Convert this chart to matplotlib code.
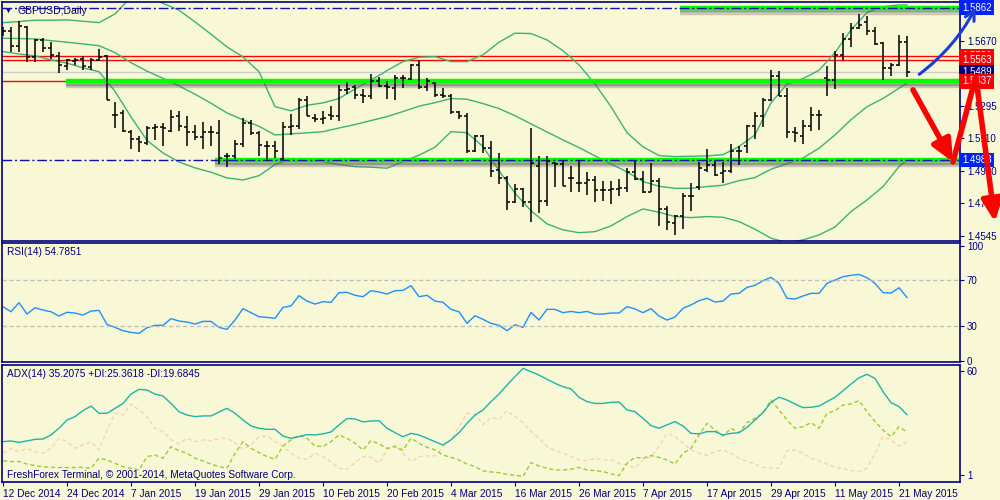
import matplotlib
matplotlib.use("Agg")
import matplotlib.pyplot as plt
import matplotlib.patheffects as pe
import matplotlib.transforms as mtransforms
from matplotlib.patches import FancyArrowPatch
import numpy as np

# ---- data (daily GBPUSD bars, 12 Dec 2014 .. 22 May 2015) ----
date_labels = ["12 Dec 2014", "24 Dec 2014", "7 Jan 2015", "19 Jan 2015", "29 Jan 2015",
               "10 Feb 2015", "20 Feb 2015", "4 Mar 2015", "16 Mar 2015", "26 Mar 2015",
               "7 Apr 2015", "17 Apr 2015", "29 Apr 2015", "11 May 2015", "21 May 2015"]

opens = [1.5721, 1.5725, 1.5640, 1.5753, 1.5577, 1.5673, 1.5629, 1.5584, 1.5527, 1.5552,
         1.5565, 1.5519, 1.5561, 1.5584, 1.5245, 1.5254, 1.5143, 1.5104, 1.5081, 1.5168,
         1.5172, 1.5152, 1.5235, 1.5172, 1.5143, 1.5114, 1.5143, 1.5139, 1.5005, 1.5005,
         1.5076, 1.5197, 1.5139, 1.5062, 1.5062, 1.4989, 1.5172, 1.5181, 1.5331, 1.5225,
         1.5220, 1.5245, 1.5239, 1.5385, 1.5404, 1.5360, 1.5350, 1.5437, 1.5412, 1.5398,
         1.5456, 1.5452, 1.5533, 1.5404, 1.5427, 1.5360, 1.5354, 1.5258, 1.5239, 1.5033,
         1.5124, 1.5053, 1.4928, 1.4880, 1.4740, 1.4816, 1.4740, 1.4947, 1.4745, 1.4966,
         1.4960, 1.4880, 1.4851, 1.4851, 1.4870, 1.4809, 1.4813, 1.4816, 1.4822, 1.4912,
         1.4874, 1.4797, 1.4860, 1.4701, 1.4620, 1.4663, 1.4774, 1.4828, 1.4928, 1.4957,
         1.4909, 1.4918, 1.5033, 1.5062, 1.5177, 1.5235, 1.5331, 1.5469, 1.5350, 1.5143,
         1.5120, 1.5181, 1.5245, 1.5456, 1.5446, 1.5590, 1.5680, 1.5744, 1.5782, 1.5730,
         1.5657, 1.5513, 1.5533, 1.5667]
highs = [1.5750, 1.5748, 1.5788, 1.5757, 1.5680, 1.5686, 1.5667, 1.5609, 1.5565, 1.5571,
         1.5584, 1.5571, 1.5623, 1.5590, 1.5316, 1.5273, 1.5154, 1.5120, 1.5177, 1.5191,
         1.5197, 1.5270, 1.5268, 1.5235, 1.5187, 1.5200, 1.5181, 1.5212, 1.5024, 1.5101,
         1.5225, 1.5216, 1.5152, 1.5095, 1.5091, 1.5200, 1.5250, 1.5341, 1.5354, 1.5248,
         1.5264, 1.5293, 1.5417, 1.5431, 1.5417, 1.5392, 1.5481, 1.5462, 1.5437, 1.5475,
         1.5475, 1.5538, 1.5558, 1.5456, 1.5431, 1.5398, 1.5366, 1.5264, 1.5254, 1.5129,
         1.5126, 1.5091, 1.5024, 1.4889, 1.4847, 1.4822, 1.5168, 1.5008, 1.5008, 1.4970,
         1.4976, 1.4951, 1.4985, 1.4912, 1.4889, 1.4860, 1.4860, 1.4874, 1.4937, 1.4976,
         1.4918, 1.4966, 1.4880, 1.4720, 1.4668, 1.4793, 1.4851, 1.4970, 1.5047, 1.4976,
         1.4970, 1.5078, 1.5062, 1.5187, 1.5258, 1.5341, 1.5500, 1.5494, 1.5398, 1.5174,
         1.5212, 1.5289, 1.5273, 1.5523, 1.5615, 1.5715, 1.5776, 1.5826, 1.5815, 1.5750,
         1.5667, 1.5542, 1.5705, 1.5696]
lows = [1.5700, 1.5609, 1.5604, 1.5546, 1.5546, 1.5604, 1.5565, 1.5485, 1.5504, 1.5533,
        1.5504, 1.5500, 1.5552, 1.5327, 1.5168, 1.5143, 1.5047, 1.5028, 1.5072, 1.5101,
        1.5066, 1.5143, 1.5149, 1.5066, 1.5101, 1.5047, 1.5066, 1.4962, 1.4941, 1.4989,
        1.5056, 1.5129, 1.5008, 1.4980, 1.4995, 1.4985, 1.5129, 1.5162, 1.5235, 1.5200,
        1.5193, 1.5212, 1.5206, 1.5366, 1.5335, 1.5312, 1.5335, 1.5404, 1.5335, 1.5327,
        1.5398, 1.5446, 1.5392, 1.5379, 1.5346, 1.5341, 1.5250, 1.5220, 1.5024, 1.5028,
        1.5024, 1.4886, 1.4847, 1.4694, 1.4736, 1.4713, 1.4624, 1.4678, 1.4717, 1.4828,
        1.4832, 1.4797, 1.4797, 1.4784, 1.4740, 1.4745, 1.4732, 1.4774, 1.4797, 1.4870,
        1.4793, 1.4797, 1.4605, 1.4578, 1.4553, 1.4586, 1.4688, 1.4809, 1.4912, 1.4893,
        1.4851, 1.4909, 1.4957, 1.5024, 1.5104, 1.5174, 1.5321, 1.5350, 1.5110, 1.5085,
        1.5078, 1.5149, 1.5154, 1.5350, 1.5392, 1.5558, 1.5634, 1.5738, 1.5705, 1.5648,
        1.5446, 1.5469, 1.5523, 1.5462]
closes = [1.5725, 1.5642, 1.5757, 1.5577, 1.5673, 1.5632, 1.5590, 1.5533, 1.5561, 1.5561,
          1.5523, 1.5561, 1.5580, 1.5331, 1.5245, 1.5149, 1.5104, 1.5085, 1.5168, 1.5172,
          1.5168, 1.5231, 1.5177, 1.5143, 1.5114, 1.5143, 1.5143, 1.4995, 1.5005, 1.5076,
          1.5197, 1.5139, 1.5068, 1.5062, 1.5033, 1.5172, 1.5181, 1.5331, 1.5239, 1.5220,
          1.5225, 1.5235, 1.5385, 1.5392, 1.5360, 1.5350, 1.5437, 1.5412, 1.5404, 1.5456,
          1.5456, 1.5533, 1.5404, 1.5437, 1.5360, 1.5350, 1.5258, 1.5239, 1.5033, 1.5124,
          1.5053, 1.4918, 1.4880, 1.4740, 1.4816, 1.4740, 1.4966, 1.4745, 1.4976, 1.4960,
          1.4836, 1.4880, 1.4851, 1.4870, 1.4809, 1.4813, 1.4816, 1.4822, 1.4912, 1.4874,
          1.4797, 1.4860, 1.4701, 1.4624, 1.4663, 1.4774, 1.4774, 1.4937, 1.4957, 1.4899,
          1.4918, 1.5033, 1.5033, 1.5177, 1.5235, 1.5331, 1.5469, 1.5350, 1.5143, 1.5139,
          1.5181, 1.5245, 1.5245, 1.5446, 1.5590, 1.5680, 1.5744, 1.5763, 1.5730, 1.5654,
          1.5513, 1.5533, 1.5667, 1.5489]

# Bollinger band (20) read every 2nd bar
band_idx = list(range(0, 113, 2)) + [113]
band_upper = [1.5776, 1.5782, 1.5790, 1.5790, 1.5792, 1.5784, 1.5776, 1.5826, 1.5924, 1.5942,
              1.5887, 1.5848, 1.5780, 1.5709, 1.5636, 1.5578, 1.5493, 1.5291, 1.5267, 1.5299,
              1.5313, 1.5338, 1.5393, 1.5445, 1.5499, 1.5551, 1.5576, 1.5580, 1.5551, 1.5551,
              1.5590, 1.5663, 1.5715, 1.5713, 1.5676, 1.5614, 1.5532, 1.5422, 1.5291, 1.5141,
              1.5059, 1.5009, 1.5003, 1.5005, 1.5007, 1.5014, 1.5061, 1.5128, 1.5313, 1.5421,
              1.5453, 1.5501, 1.5603, 1.5734, 1.5834, 1.5868, 1.5878, 1.5878]
band_mid = [1.5686, 1.5684, 1.5682, 1.5672, 1.5663, 1.5653, 1.5643, 1.5603, 1.5545, 1.5496,
            1.5455, 1.5411, 1.5363, 1.5311, 1.5255, 1.5215, 1.5178, 1.5128, 1.5134, 1.5140,
            1.5147, 1.5168, 1.5188, 1.5211, 1.5234, 1.5263, 1.5294, 1.5314, 1.5338, 1.5334,
            1.5309, 1.5280, 1.5239, 1.5192, 1.5145, 1.5099, 1.5055, 1.5007, 1.4960, 1.4915,
            1.4859, 1.4832, 1.4820, 1.4820, 1.4830, 1.4838, 1.4864, 1.4882, 1.4930, 1.4962,
            1.4995, 1.5051, 1.5128, 1.5216, 1.5291, 1.5338, 1.5398, 1.5426]
band_lower = [1.5609, 1.5595, 1.5584, 1.5561, 1.5542, 1.5515, 1.5493, 1.5380, 1.5232, 1.5097,
              1.5024, 1.4972, 1.4938, 1.4913, 1.4880, 1.4868, 1.4893, 1.4957, 1.4990, 1.4982,
              1.4974, 1.4957, 1.4945, 1.4942, 1.4936, 1.4974, 1.5011, 1.5057, 1.5147, 1.5141,
              1.5061, 1.4922, 1.4792, 1.4690, 1.4615, 1.4580, 1.4564, 1.4570, 1.4603, 1.4657,
              1.4701, 1.4682, 1.4657, 1.4651, 1.4657, 1.4653, 1.4628, 1.4584, 1.4532, 1.4507,
              1.4522, 1.4551, 1.4597, 1.4686, 1.4753, 1.4830, 1.4945, 1.4984]

rsi = [46.8, 42.4, 50.3, 40.4, 45.9, 43.9, 42.4, 38.7, 41.9, 41.3,
       39.5, 43.0, 43.6, 31.4, 28.8, 25.9, 24.5, 23.6, 28.5, 30.6,
       30.6, 36.4, 34.3, 33.5, 31.7, 34.0, 34.0, 28.8, 27.1, 35.2,
       45.1, 41.6, 38.1, 37.5, 36.7, 46.2, 47.4, 56.4, 51.7, 49.1,
       51.2, 50.6, 59.0, 59.3, 56.7, 55.5, 60.7, 59.6, 57.8, 60.7,
       61.0, 65.1, 55.5, 56.7, 51.7, 50.6, 44.5, 42.4, 32.3, 39.0,
       35.8, 32.3, 30.6, 25.9, 31.1, 28.8, 41.9, 35.2, 44.5, 44.5,
       41.6, 42.7, 41.6, 42.7, 40.4, 40.4, 41.3, 41.3, 46.8, 44.8,
       41.6, 45.1, 38.7, 35.2, 37.8, 45.4, 48.3, 52.0, 54.1, 50.9,
       51.7, 57.8, 58.4, 63.6, 65.4, 69.4, 72.3, 67.1, 54.1, 53.5,
       56.1, 58.4, 58.4, 67.1, 70.0, 72.9, 74.1, 74.9, 72.0, 67.1,
       59.0, 58.7, 63.3, 54.79]

adx = [19.9, 20.3, 19.5, 20.3, 21.2, 21.4, 23.7, 27.5, 32.2, 34.1,
       37.5, 40.1, 36.0, 36.0, 38.8, 41.6, 46.9, 49.6, 49.2, 46.9,
       45.8, 41.6, 36.9, 35.0, 34.1, 34.5, 34.5, 36.7, 38.8, 36.0,
       32.2, 28.8, 27.5, 26.9, 26.9, 23.1, 21.8, 22.7, 23.9, 23.7,
       24.3, 25.4, 29.4, 33.0, 32.8, 31.1, 31.6, 31.8, 27.5, 25.0,
       22.7, 24.6, 23.7, 21.8, 19.9, 18.0, 20.9, 25.0, 30.3, 35.0,
       37.9, 42.6, 46.9, 52.0, 56.8, 61.5, 59.6, 57.7, 55.3, 53.0,
       51.1, 49.8, 45.1, 42.6, 41.6, 41.6, 42.2, 42.4, 37.9, 36.9,
       33.1, 29.0, 27.5, 29.4, 31.3, 28.8, 24.6, 24.3, 25.6, 25.6,
       23.7, 24.6, 25.0, 28.0, 32.2, 36.4, 42.2, 45.1, 43.5, 41.3,
       39.2, 39.4, 40.1, 42.6, 45.1, 48.8, 52.6, 56.2, 58.1, 55.8,
       48.3, 42.0, 39.8, 35.21]
plus_di = [9.1, 8.6, 8.6, 7.2, 6.3, 5.7, 5.3, 5.2, 5.2, 5.2,
           5.3, 4.8, 10.5, 9.5, 7.6, 5.7, 4.8, 3.8, 11.4, 12.3,
           10.5, 17.1, 14.8, 13.3, 10.5, 8.9, 7.2, 5.7, 4.8, 13.3,
           19.9, 16.1, 13.7, 11.4, 9.9, 17.4, 20.9, 23.7, 21.8, 17.4,
           17.1, 19.9, 23.7, 21.8, 19.0, 15.2, 20.5, 18.6, 16.1, 17.1,
           15.2, 21.8, 19.0, 16.7, 15.2, 12.3, 11.0, 9.5, 7.2, 5.7,
           3.3, 2.7, 2.3, 1.4, 0.8, 0.1, 8.0, 6.1, 4.8, 3.8,
           3.8, 4.2, 5.3, 3.8, 3.5, 2.9, 1.6, 0.6, 7.6, 11.0,
           10.5, 12.0, 11.0, 9.5, 7.2, 13.3, 16.1, 23.7, 30.3, 26.5,
           23.1, 27.5, 25.0, 30.7, 33.1, 36.0, 43.5, 37.9, 32.2, 27.5,
           28.4, 30.7, 27.5, 36.0, 37.5, 40.7, 41.3, 43.2, 36.9, 31.3,
           26.5, 22.7, 28.4, 25.36]
minus_di = [13.3, 16.1, 14.2, 16.1, 14.2, 13.3, 16.1, 21.8, 19.9, 16.1,
            18.0, 19.9, 15.2, 26.5, 36.0, 35.0, 41.3, 37.9, 34.1, 27.5,
            25.6, 20.9, 18.6, 21.8, 19.9, 20.9, 20.3, 21.6, 21.8, 19.3,
            15.6, 18.0, 22.7, 23.1, 19.9, 17.1, 13.3, 10.5, 9.9, 13.3,
            11.4, 8.6, 4.8, 4.2, 8.0, 11.4, 11.0, 7.6, 15.2, 18.0,
            13.3, 8.6, 11.4, 11.8, 11.8, 17.1, 21.2, 28.4, 36.0, 35.6,
            29.4, 33.7, 32.6, 37.5, 34.1, 30.7, 25.6, 21.8, 17.1, 14.8,
            13.3, 11.4, 9.5, 9.1, 10.5, 9.5, 9.5, 7.6, 6.7, 4.8,
            9.5, 11.4, 17.1, 24.6, 22.7, 19.0, 15.2, 13.3, 12.3, 14.2,
            15.2, 13.3, 10.5, 8.6, 7.2, 5.3, 4.8, 4.8, 14.8, 15.2,
            13.3, 10.5, 9.1, 7.2, 5.3, 4.8, 3.5, 2.9, 4.8, 13.3,
            22.7, 20.9, 17.4, 19.68]

# drawn levels
level_top = 1.5862
level_red1 = 1.5581
level_red2 = 1.5563
bid_price = 1.5489
level_mid = 1.5437
level_low = 1.4983
# visible price scale labels (the others sit under the coloured level boxes)
price_ticks = [1.4545, 1.4735, 1.4920, 1.5110, 1.5295, 1.5485, 1.5670, 1.5860]
price_tick_text = ["1.4545", "1.4735", "1.4920", "1.5110", "1.5295", "", "1.5670", ""]

# hand-drawn arrows (bar, price)
blue_arrow = [(114.25, 1.5468), (121.75, 1.5878)]
red_path = [(113.75, 1.5388), (118.75, 1.4972), (121.6, 1.5463), (124.0, 1.4626)]

# ---- drawing ----
BG = "#f8f8d6"
NAVY = "#000080"
W, H = 1000, 500
plt.rcParams["font.family"] = ["Liberation Sans", "DejaVu Sans"]


def fpos(x, y):
    return x / W, 1 - y / H


fig = plt.figure(figsize=(10, 5), dpi=100, facecolor=BG)
ax = fig.add_axes([0.002, 0.518, 0.958, 0.478])
ax_rsi = fig.add_axes([0.002, 0.276, 0.958, 0.238], sharex=ax)
ax_adx = fig.add_axes([0.002, 0.036, 0.958, 0.234], sharex=ax)

for a in (ax, ax_rsi, ax_adx):
    a.set_facecolor(BG)
    for s in a.spines.values():
        s.set_color(NAVY)
        s.set_linewidth(1.2)
    a.yaxis.tick_right()
    a.tick_params(axis="y", direction="out", length=3, color=NAVY, labelcolor=NAVY,
                  labelsize=7, pad=2)
    a.tick_params(axis="x", bottom=False, labelbottom=False)

ax.set_xlim(-0.125, 119.625)
ax.set_ylim(1.4516, 1.5895)

idx = np.arange(len(closes))

# bollinger bands
for band in (band_upper, band_mid, band_lower):
    ax.plot(band_idx, band, color="#3cb371", lw=1, zorder=2)

# levels
ax.axhline(level_red1, color="red", lw=1, zorder=1)
ax.axhline(level_red2, color="red", lw=1, zorder=1)
ax.axhline(bid_price, color="#cccccc", lw=1, zorder=1)
ax.axhline(level_mid, color="red", lw=1, zorder=1)

shadow = [pe.SimpleLineShadow(offset=(0, -3.5), shadow_color="#707070", alpha=0.35),
          pe.SimpleLineShadow(offset=(0, -2), shadow_color="#505050", alpha=0.4),
          pe.Normal()]
for lv, start in ((level_top, 84.6), (level_mid, 7.9), (level_low, 26.5)):
    ax.hlines(lv, start, 119.625, color="#00ff00", lw=3.2, path_effects=shadow, zorder=3)
for lv in (level_top, level_low):
    ax.axhline(lv, color="#1010b0", lw=1, dashes=(7, 2, 1.5, 2), zorder=4)

# OHLC bars
ax.vlines(idx, lows, highs, color="black", lw=1.1, zorder=5)
ax.hlines(opens, idx - 0.375, idx, color="black", lw=1.1, zorder=5)
ax.hlines(closes, idx, idx + 0.375, color="black", lw=1.1, zorder=5)

# price axis
ax.set_yticks(price_ticks)
ax.set_yticklabels(price_tick_text)

trans = mtransforms.blended_transform_factory(ax.transAxes, ax.transData)
boxes = [(level_top, "#0022ff"), (level_red1, "#ff0000"), (level_red2, "#ff0000"),
         (bid_price, "#000080"), (level_mid, "#ff0000"), (level_low, "#0022ff")]
for val, col in boxes:
    ax.text(1.002, val, f"{val:.4f}", transform=trans, ha="left", va="center",
            fontsize=7, color="white", clip_on=False, zorder=6,
            bbox=dict(boxstyle="square,pad=0.25", fc=col, ec="none"))

# arrows
ax.add_patch(FancyArrowPatch(blue_arrow[0], blue_arrow[1], connectionstyle="arc3,rad=0.12",
                             arrowstyle="->,head_length=7,head_width=3.5", color="#1a3cd8",
                             lw=2.2, clip_on=False, zorder=8))
ax.add_patch(FancyArrowPatch(red_path[0], red_path[1],
                             arrowstyle="-|>,head_length=13,head_width=6",
                             color="red", lw=4, clip_on=False, zorder=8, shrinkA=0, shrinkB=0))
ax.plot([red_path[1][0], red_path[2][0]], [red_path[1][1], red_path[2][1]], color="red", lw=4,
        clip_on=False, zorder=8, solid_capstyle="round")
ax.add_patch(FancyArrowPatch(red_path[2], red_path[3],
                             arrowstyle="-|>,head_length=13,head_width=6",
                             color="red", lw=4, clip_on=False, zorder=8, shrinkA=0, shrinkB=0))

# RSI
ax_rsi.set_ylim(-1.3, 102.2)
ax_rsi.plot(idx, rsi, color="#1e90ff", lw=1)
for lv in (70, 30):
    ax_rsi.axhline(lv, color="#c0c0c0", lw=1, dashes=(3, 2))
ax_rsi.set_yticks([100, 70, 30, 0])

# ADX
ax_adx.set_ylim(-3.0, 63.4)
ax_adx.plot(idx, minus_di, color="#f5d5b0", lw=1, dashes=(3, 2))
ax_adx.plot(idx, plus_di, color="#9acd32", lw=1, dashes=(3, 2))
ax_adx.plot(idx, adx, color="#20b2aa", lw=1)
ax_adx.set_yticks([60, 1])

tick_pos = list(range(0, 113, 8))
ax_adx.tick_params(axis="x", bottom=True, labelbottom=True, direction="out", length=3,
                   color=NAVY, labelcolor=NAVY, labelsize=7.3, pad=2)
ax_adx.set_xticks(tick_pos)
ax_adx.set_xticklabels(date_labels, ha="left")

# captions
fig.text(*fpos(5, 11), "\u25bc", fontsize=5, color=NAVY, va="center")
fig.text(*fpos(18, 11), "GBPUSD,Daily", fontsize=7.5, color=NAVY, va="center")
fig.text(*fpos(7, 252), "RSI(14) 54.7851", fontsize=7.3, color=NAVY, va="center")
fig.text(*fpos(7, 374), "ADX(14) 35.2075 +DI:25.3618 -DI:19.6845", fontsize=7.3, color=NAVY,
         va="center")
fig.text(*fpos(7, 475), "FreshForex Terminal, \u00a9 2001-2014, MetaQuotes Software Corp.",
         fontsize=7.3, color=NAVY, va="center")

fig.savefig("out.png", dpi=100, facecolor=BG)
